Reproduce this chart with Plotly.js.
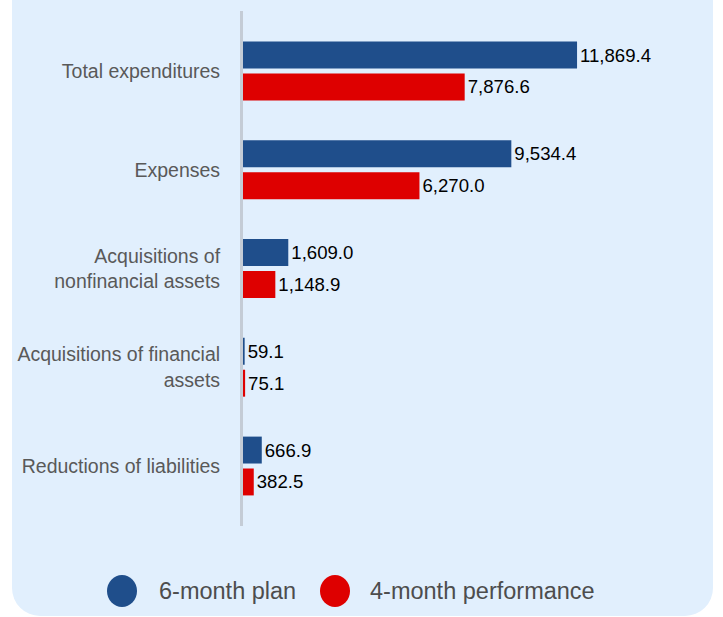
<!DOCTYPE html>
<html>
<head>
<meta charset="utf-8">
<script src="https://cdn.plot.ly/plotly-3.0.1.min.js"></script>
<style>
  html, body { margin: 0; padding: 0; background: #ffffff; }
  #wrap { position: relative; width: 723px; height: 617px; overflow: hidden; }
  #panel { position: absolute; left: 12px; top: -30px; width: 701px; height: 646px;
           background: #e1effd; border-radius: 0 0 28px 28px; }
  #chart { position: absolute; left: 0; top: 0; width: 723px; height: 617px; }
</style>
</head>
<body>
<div id="wrap">
  <div id="panel"></div>
  <div id="chart"></div>
</div>
<script>
const categories = [
  "Total expenditures",
  "Expenses",
  "Acquisitions of<br>nonfinancial assets",
  "Acquisitions of financial<br>assets",
  "Reductions of liabilities"
];
const seriesNames = ["6-month plan", "4-month performance"];
const planValues = [11869.4, 9534.4, 1609.0, 59.1, 666.9];
const perfValues = [7876.6, 6270.0, 1148.9, 75.1, 382.5];
const colors = ["#1f4e8b", "#de0000"];

const W = 723, H = 617;
const M = { l: 243, r: 10, t: 11, b: 91 };
const pw = W - M.l - M.r, ph = H - M.t - M.b;
const pxX = px => (px - M.l) / pw;
const pxY = py => (M.t + ph - py) / ph;

const textFont = { family: "Liberation Sans, Arial, sans-serif", size: 18.6, color: "#000000" };

const traces = [planValues, perfValues].map((vals, i) => ({
  type: "bar",
  orientation: "h",
  name: seriesNames[i],
  y: categories,
  x: vals,
  marker: { color: colors[i] },
  text: vals,
  texttemplate: "%{x:,.1f}",
  textposition: "outside",
  textfont: textFont,
  cliponaxis: false,
  hoverinfo: "x+name",
  showlegend: false
}));

const legendY = 591;
const legendItems = [
  { cx: 122, tx: 157 },
  { cx: 335, tx: 368 }
];
const shapes = legendItems.map((it, i) => ({
  type: "circle",
  xref: "paper", yref: "paper",
  xsizemode: "pixel", ysizemode: "pixel",
  xanchor: pxX(it.cx), yanchor: pxY(legendY),
  x0: -15, x1: 15, y0: -16, y1: 16,
  fillcolor: colors[i],
  line: { width: 0 }
}));
const annotations = legendItems.map((it, i) => ({
  xref: "paper", yref: "paper",
  x: pxX(it.tx), y: pxY(legendY),
  xanchor: "left", yanchor: "middle",
  text: seriesNames[i],
  showarrow: false,
  font: { family: "Liberation Sans, Arial, sans-serif", size: 23.5, color: "#4d4d4d" }
}));

const layout = {
  width: W, height: H,
  margin: M,
  paper_bgcolor: "rgba(0,0,0,0)",
  plot_bgcolor: "rgba(0,0,0,0)",
  barmode: "group",
  bargap: 0.354,
  bargroupgap: 0.156,
  showlegend: false,
  xaxis: {
    range: [0, 16700],
    showgrid: false, zeroline: false, showline: false,
    showticklabels: false, ticks: ""
  },
  yaxis: {
    type: "category",
    categoryorder: "array",
    categoryarray: categories,
    range: [4.6075, -0.6075],
    showgrid: false, zeroline: false,
    showline: true, linecolor: "#c4ccd6", linewidth: 3,
    ticks: "", ticklabelstandoff: 16,
    tickfont: { family: "Liberation Sans, Arial, sans-serif", size: 19.5, color: "#595959" }
  },
  shapes: shapes,
  annotations: annotations,
  font: { family: "Liberation Sans, Arial, sans-serif" }
};

Plotly.newPlot("chart", traces, layout, { displayModeBar: false, staticPlot: true });
</script>
</body>
</html>
